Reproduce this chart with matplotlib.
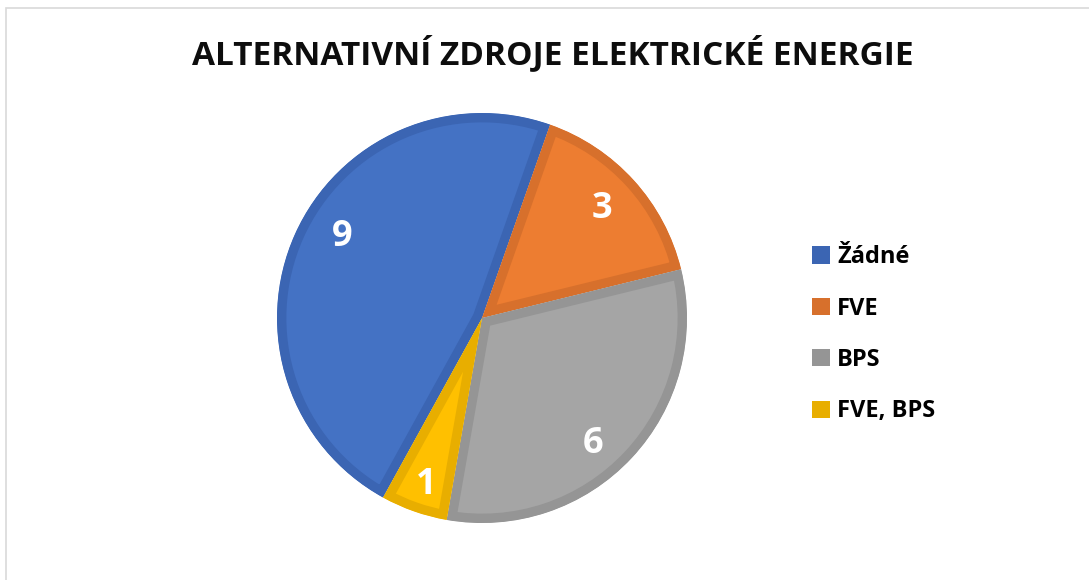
import matplotlib
matplotlib.use("Agg")
import numpy as np
import matplotlib.pyplot as plt
from matplotlib.patches import Patch, Rectangle, Wedge

categories = ["Žádné", "FVE", "BPS", "FVE, BPS"]
values = [9, 3, 6, 1]
face_colors = ["#4472C4", "#ED7D31", "#A5A5A5", "#FFC000"]
edge_colors = ["#3B65B3", "#D7702C", "#959595", "#E8AE00"]
title = "ALTERNATIVNÍ ZDROJE ELEKTRICKÉ ENERGIE"

W, H = 1089, 580
fig = plt.figure(figsize=(W / 100, H / 100), dpi=100)
fig.patch.set_facecolor("white")

# chart border (top/left visible)
fig.add_artist(Rectangle((6 / W, -0.05), 1.2, (H - 8) / H + 0.05,
                         transform=fig.transFigure, fill=False,
                         edgecolor="#D9D9D9", linewidth=1.2))

cx, cy, r = 482, 318, 205
ax = fig.add_axes([(cx - r) / W, (H - cy - r) / H, 2 * r / W, 2 * r / H])
ax.set_aspect("equal")

total = sum(values)
start = 90 - (360 * (values[1] + values[2] + values[3]) / total + 19.4)

wedges, texts, autotexts = ax.pie(
    values, colors=face_colors, startangle=start, counterclock=False,
    autopct=lambda p: f"{round(p * total / 100):d}", pctdistance=0.8,
    wedgeprops=dict(linewidth=13.5), radius=1.0,
    textprops=dict(color="white", fontsize=26, fontweight="bold",
                   family=["Open Sans", "DejaVu Sans"]))
for w, ec in zip(wedges, edge_colors):
    w.set_edgecolor(ec)
    clip = Wedge(w.center, w.r, w.theta1, w.theta2, transform=ax.transData)
    w.set_clip_on(True)
    w.set_clip_path(clip)

# label placement (radial distance, angular shift in degrees)
label_pos = [(0.79, -6.0), (0.79, 0.0), (0.82, -5.5), (0.86, 1.0)]
for w, t, (d, sh) in zip(wedges, autotexts, label_pos):
    ang = np.deg2rad((w.theta1 + w.theta2) / 2 + sh)
    t.set_position((d * np.cos(ang), d * np.sin(ang)))

ax.set_xlim(-1, 1)
ax.set_ylim(-1, 1)
ax.axis("off")

fig.text(553 / W, (H - 54) / H, title, ha="center", va="center",
         fontsize=24, fontweight="bold", color="#0D0D0D",
         family=["Open Sans", "DejaVu Sans"])

handles = [Patch(facecolor=c, edgecolor="none") for c in edge_colors]
leg = fig.legend(handles, categories, loc="upper left",
                 bbox_to_anchor=(791 / W, (H - 224) / H), frameon=False,
                 prop=dict(family=["Open Sans", "DejaVu Sans"], weight="bold", size=17),
                 handlelength=0.75, handleheight=0.75, handletextpad=0.3,
                 labelspacing=1.16)
plt.savefig("out.png", dpi=100, facecolor="white")
